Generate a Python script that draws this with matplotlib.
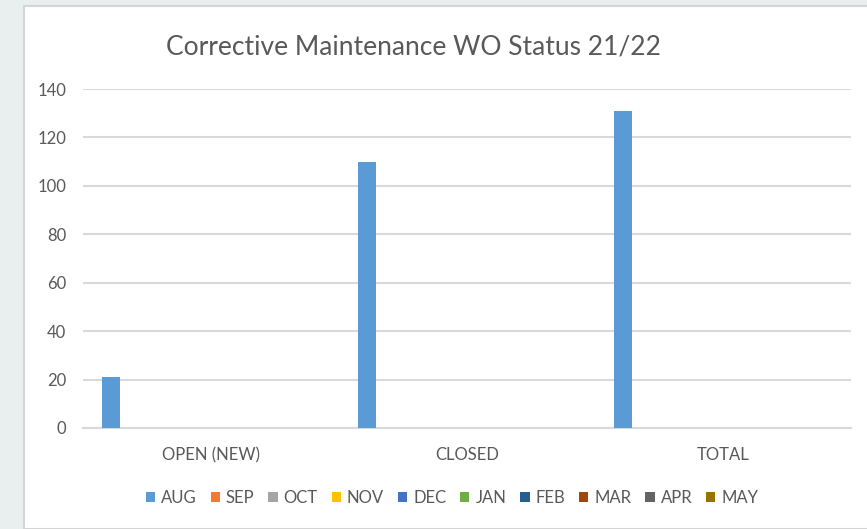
import numpy as np
import matplotlib
matplotlib.use("Agg")
import matplotlib.pyplot as plt
from matplotlib.patches import Rectangle

# data
categories = ["OPEN (NEW)", "CLOSED", "TOTAL"]
months = ["AUG", "SEP", "OCT", "NOV", "DEC", "JAN", "FEB", "MAR", "APR", "MAY"]
aug = [21, 110, 131]
sep = [np.nan, np.nan, np.nan]
oct_ = [np.nan, np.nan, np.nan]
nov = [np.nan, np.nan, np.nan]
dec = [np.nan, np.nan, np.nan]
jan = [np.nan, np.nan, np.nan]
feb = [np.nan, np.nan, np.nan]
mar = [np.nan, np.nan, np.nan]
apr = [np.nan, np.nan, np.nan]
may = [np.nan, np.nan, np.nan]
series = [aug, sep, oct_, nov, dec, jan, feb, mar, apr, may]
colors = ["#5b9bd5", "#ed7d31", "#a5a5a5", "#ffc000", "#4472c4",
          "#70ad47", "#255e91", "#9e480e", "#636363", "#997300"]

plt.rcParams['font.family'] = ['Lato', 'DejaVu Sans']
txt = "#595959"

fig = plt.figure(figsize=(8.67, 5.29), dpi=100)
fig.patch.set_facecolor("#e9eeef")
# white chart area behind everything
fig.patches.append(Rectangle((24 / 867, 0), 1, 1 - 6 / 529, transform=fig.transFigure,
                             facecolor="white", edgecolor="#d4d4d4", lw=1.5, zorder=-10))

ax = fig.add_axes([83 / 867, 1 - 428 / 529, (851 - 83) / 867, (428 - 89) / 529])
ax.set_facecolor("none")

# Excel clustered layout: gap width 219%, overlap -27%
n = len(series)
w = 1 / (n + 0.27 * (n - 1) + 2.19)
step = 1.27 * w
x = np.arange(len(categories))
for i, (vals, c, m) in enumerate(zip(series, colors, months)):
    off = (i - (n - 1) / 2) * step
    ax.bar(x + off, vals, width=w, color=c, label=m, zorder=3)

ax.set_xlim(-0.5, len(categories) - 0.5)
ax.set_ylim(0, 140)
ax.set_yticks(range(0, 141, 20))
ax.yaxis.grid(True, color="#d9d9d9", lw=1.5, zorder=0)
ax.set_axisbelow(True)
for s in ["top", "right", "left"]:
    ax.spines[s].set_visible(False)
ax.spines["bottom"].set_color("#d9d9d9")
ax.spines["bottom"].set_linewidth(1.5)
ax.tick_params(axis="both", length=0, colors=txt, labelsize=12)
ax.tick_params(axis="y", pad=12)
ax.tick_params(axis="x", pad=14)
ax.set_xticks(x)
ax.set_xticklabels(categories)

fig.text(413 / 867, 1 - 47 / 529, "Corrective Maintenance WO Status 21/22",
         ha="center", va="center", fontsize=19, color=txt)

fig.legend(loc="center", bbox_to_anchor=(452 / 867, 1 - 498 / 529), ncol=10,
           frameon=False, fontsize=12, labelcolor=txt, handlelength=0.55,
           handleheight=0.55, handletextpad=0.35, columnspacing=0.85)

fig.savefig("out.png", dpi=100, facecolor=fig.get_facecolor())
